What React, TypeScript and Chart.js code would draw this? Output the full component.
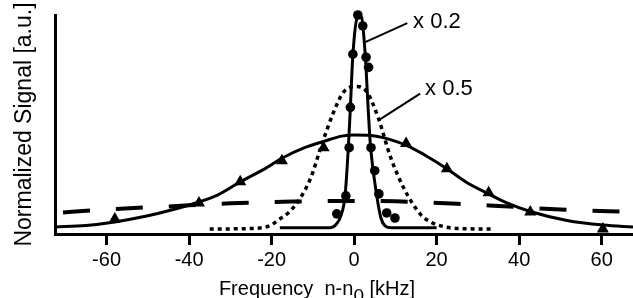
import React, { useEffect, useRef } from 'react';
import { Chart, registerables } from 'chart.js';

Chart.register(...registerables);

// ---- axis ticks ----
const xTickValues = [-60, -40, -20, 0, 20, 40, 60];
const xTickLabels = ['-60', '-40', '-20', '0', '20', '40', '60'];

// ---- narrow line (x 0.2), solid fit ----
const narrowFitX = [-18, -6, -4.5, -3.2, -2.2, -1.4, -1.0, -0.3, 0.8, 1.3, 1.8, 2.7, 3.5, 4.0, 5.5, 6.5, 7.5, 9, 20];
const narrowFitY = [0.028, 0.028, 0.041, 0.083, 0.174, 0.394, 0.541, 0.817, 0.99, 0.995, 0.99, 0.817, 0.541, 0.394, 0.174, 0.073, 0.037, 0.028, 0.028];

// ---- narrow line measured points (circles) ----
const circleX = [-4.2, -2.0, -1.2, -0.9, -0.3, 0.9, 2.1, 2.9, 3.5, 4.1, 5.0, 6.0, 7.9, 9.9];
const circleY = [0.092, 0.174, 0.394, 0.578, 0.821, 1.0, 0.95, 0.807, 0.761, 0.394, 0.289, 0.183, 0.096, 0.073];

// ---- dotted line (x 0.5) ----
const dottedX = [-35, -25, -20, -18.7, -16, -13.5, -10.5, -8, -5, -2.6, 0.3, 3, 5.9, 8.7, 12, 16, 18.5, 21, 25, 33.7];
const dottedY = [0.023, 0.025, 0.041, 0.06, 0.096, 0.151, 0.257, 0.399, 0.555, 0.647, 0.674, 0.651, 0.528, 0.358, 0.211, 0.092, 0.055, 0.037, 0.025, 0.023];

// ---- broad line, solid fit ----
const broadFitX = [-72.5, -65, -58, -50, -45, -38, -33, -27.5, -22, -17.5, -12, -7.5, -3, 0, 4, 7, 12.8, 17, 22.5, 27, 32.6, 37, 42.7, 51.6, 60.4, 67.6];
const broadFitY = [0.032, 0.039, 0.055, 0.083, 0.106, 0.144, 0.179, 0.239, 0.294, 0.346, 0.394, 0.422, 0.447, 0.452, 0.45, 0.44, 0.404, 0.362, 0.298, 0.239, 0.183, 0.142, 0.103, 0.062, 0.041, 0.032];

// ---- broad line measured points (triangles) ----
const triangleX = [-58, -37.6, -27.6, -17.5, -7.4, 12.6, 22.5, 32.6, 42.7, 60.3];
const triangleY = [0.069, 0.142, 0.239, 0.335, 0.394, 0.413, 0.298, 0.188, 0.101, 0.023];

// ---- dashed line ----
const dashedX = [-72.5, -60, -45, -30, -15, 0, 10, 25, 35, 50, 67.6];
const dashedY = [0.096, 0.112, 0.126, 0.14, 0.148, 0.151, 0.149, 0.138, 0.128, 0.112, 0.101];

// ---- annotations (data coordinates) ----
const annoText = ['x 0.2', 'x 0.5'];
const annoTextX = [14.3, 17.2];
const annoTextY = [0.969, 0.664];
const annoFromX = [2.7, 5.8];
const annoFromY = [0.876, 0.518];
const annoToX = [12.9, 16.0];
const annoToY = [0.963, 0.641];

const zip = (xs: number[], ys: number[]) => xs.map((x, i) => ({ x, y: ys[i] }));

const SANS = '"Liberation Sans", Arial, Helvetica, sans-serif';

const annotationPlugin = {
  id: 'annotationsAndTitle',
  afterDraw(chart: any) {
    const { ctx, scales } = chart;
    const xs = scales.x;
    const ys = scales.y;
    ctx.save();
    ctx.strokeStyle = '#000';
    ctx.fillStyle = '#000';
    ctx.lineWidth = 2;
    for (let i = 0; i < annoText.length; i++) {
      ctx.beginPath();
      ctx.moveTo(xs.getPixelForValue(annoFromX[i]), ys.getPixelForValue(annoFromY[i]));
      ctx.lineTo(xs.getPixelForValue(annoToX[i]), ys.getPixelForValue(annoToY[i]));
      ctx.stroke();
      ctx.font = `22px ${SANS}`;
      ctx.textAlign = 'left';
      ctx.textBaseline = 'middle';
      ctx.fillText(annoText[i], xs.getPixelForValue(annoTextX[i]), ys.getPixelForValue(annoTextY[i]));
    }
    // x-axis title with subscript
    const main1 = 'Frequency  n-n';
    const sub = '0';
    const main2 = ' [kHz]';
    ctx.font = `20px ${SANS}`;
    const w1 = ctx.measureText(main1).width;
    const w3 = ctx.measureText(main2).width;
    ctx.font = `19px ${SANS}`;
    const w2 = ctx.measureText(sub).width;
    const total = w1 + w2 + w3;
    const cx = xs.getPixelForValue(-9);
    const baseY = chart.height - 3;
    let x0 = cx - total / 2;
    ctx.textAlign = 'left';
    ctx.textBaseline = 'alphabetic';
    ctx.font = `20px ${SANS}`;
    ctx.fillText(main1, x0, baseY);
    x0 += w1;
    ctx.font = `19px ${SANS}`;
    ctx.fillText(sub, x0, baseY + 7);
    x0 += w2;
    ctx.font = `20px ${SANS}`;
    ctx.fillText(main2, x0, baseY);
    ctx.restore();
  },
};

export default function App() {
  const canvasRef = useRef<HTMLCanvasElement | null>(null);

  useEffect(() => {
    if (!canvasRef.current) return;
    const chart = new Chart(canvasRef.current, {
      type: 'line',
      data: {
        datasets: [
          {
            label: 'narrow points',
            data: zip(circleX, circleY),
            showLine: false,
            pointStyle: 'circle',
            pointRadius: 4.8,
            pointBackgroundColor: '#000',
            pointBorderColor: '#000',
            pointBorderWidth: 0,
            clip: false,
          } as any,
          {
            label: 'broad points',
            data: zip(triangleX, triangleY),
            showLine: false,
            pointStyle: 'triangle',
            pointRadius: 7,
            pointBackgroundColor: '#000',
            pointBorderColor: '#000',
            pointBorderWidth: 0,
            clip: false,
          } as any,
          {
            label: 'narrow fit',
            data: zip(narrowFitX, narrowFitY),
            borderColor: '#000',
            borderWidth: 3,
            pointRadius: 0,
            cubicInterpolationMode: 'monotone',
            fill: false,
            clip: false,
          } as any,
          {
            label: 'dotted',
            data: zip(dottedX, dottedY),
            borderColor: '#000',
            borderWidth: 3.5,
            borderDash: [4, 4],
            pointRadius: 0,
            cubicInterpolationMode: 'monotone',
            fill: false,
          },
          {
            label: 'broad fit',
            data: zip(broadFitX, broadFitY),
            borderColor: '#000',
            borderWidth: 3,
            pointRadius: 0,
            cubicInterpolationMode: 'monotone',
            fill: false,
          },
          {
            label: 'dashed',
            data: zip(dashedX, dashedY),
            borderColor: '#000',
            borderWidth: 4,
            borderDash: [27, 26],
            borderDashOffset: 45,
            pointRadius: 0,
            cubicInterpolationMode: 'monotone',
            fill: false,
          },
        ],
      },
      options: {
        responsive: false,
        animation: false,
        devicePixelRatio: 1,
        layout: { autoPadding: false, padding: { left: 11.2, top: 15, right: 0, bottom: 23 } },
        plugins: { legend: { display: false }, tooltip: { enabled: false } },
        scales: {
          x: {
            type: 'linear',
            min: -72.5,
            max: 67.6,
            afterBuildTicks: (axis: any) => {
              axis.ticks = xTickValues.map((v) => ({ value: v }));
            },
            ticks: {
              callback: (_v: any, i: number) => xTickLabels[i],
              font: { family: SANS, size: 20 },
              color: '#000',
              padding: 3,
              maxRotation: 0,
              autoSkip: false,
            },
            grid: {
              display: true,
              drawOnChartArea: false,
              drawTicks: true,
              tickLength: 11,
              tickWidth: 3,
              tickColor: '#000',
            },
            border: { display: true, width: 3, color: '#000' },
          },
          y: {
            type: 'linear',
            min: 0,
            max: 1,
            ticks: { display: false },
            grid: { display: false, drawTicks: false },
            border: { display: true, width: 3, color: '#000' },
            title: {
              display: true,
              text: 'Normalized Signal [a.u.]',
              font: { family: SANS, size: 23 },
              color: '#000',
              padding: { top: 0, bottom: 16.2 },
            },
          },
        },
      },
      plugins: [annotationPlugin],
    } as any);
    return () => chart.destroy();
  }, []);

  return (
    <div style={{ position: 'absolute', left: 0, top: 0, width: 633, height: 298, background: '#fff' }}>
      <canvas ref={canvasRef} width={633} height={298} />
    </div>
  );
}
